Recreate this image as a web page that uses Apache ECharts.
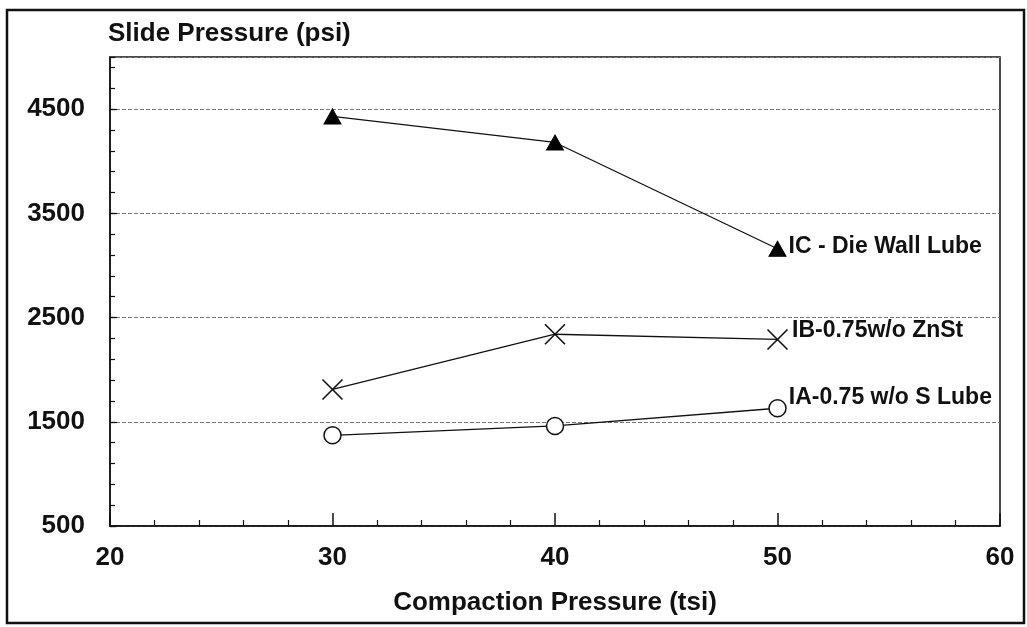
<!DOCTYPE html>
<html>
<head>
<meta charset="utf-8">
<script src="https://cdn.jsdelivr.net/npm/echarts@6/dist/echarts.min.js"></script>
<style>
html,body{margin:0;padding:0;background:#fff;}
#chart{width:1027px;height:627px;}
</style>
</head>
<body>
<div id="chart"></div>
<script>
// Data
const compaction = [30, 40, 50];              // Compaction Pressure (tsi)
const icDieWall = [4430, 4180, 3160];         // IC - Die Wall Lube
const ibNoZnSt = [1810, 2340, 2290];          // IB-0.75w/o ZnSt
const iaNoSLube = [1370, 1460, 1630];         // IA-0.75 w/o S Lube
const seriesNames = ['IC - Die Wall Lube', 'IB-0.75w/o ZnSt', 'IA-0.75 w/o S Lube'];
const xTitle = 'Compaction Pressure (tsi)';
const yTitle = 'Slide Pressure (psi)';

const FONT = "'Liberation Sans', Arial, sans-serif";
const pairs = vals => compaction.map((x, i) => [x, vals[i]]);

const chart = echarts.init(document.getElementById('chart'));
const lastLabel = (name, offset) => ({
  show: true,
  position: 'right',
  distance: 2,
  offset: offset,
  formatter: p => (p.dataIndex === compaction.length - 1 ? name : ''),
  color: '#111',
  fontFamily: FONT,
  fontWeight: 'bold',
  fontSize: 23
});

chart.setOption({
  backgroundColor: '#fff',
  animation: false,
  grid: {
    left: 110, right: 27, top: 57, bottom: 101,
    outerBoundsMode: 'none', containLabel: false,
    show: true, borderColor: '#111', borderWidth: 1.5, backgroundColor: 'transparent'
  },
  graphic: [{
    type: 'rect',
    shape: { x: 7, y: 10, width: 1017, height: 613 },
    style: { fill: 'none', stroke: '#111', lineWidth: 2.5 },
    silent: true
  }],
  xAxis: {
    type: 'value', min: 20, max: 60, interval: 10,
    name: xTitle, nameLocation: 'middle', nameGap: 64,
    nameTextStyle: { fontFamily: FONT, fontSize: 26, fontWeight: 'bold', color: '#111' },
    axisLine: { show: true, onZero: false, lineStyle: { color: '#111', width: 1.5 } },
    axisTick: { show: true, inside: true, length: 13, lineStyle: { color: '#111', width: 1.5 } },
    minorTick: { show: true, splitNumber: 5, length: 6, lineStyle: { color: '#111', width: 1.2 } },
    axisLabel: { fontFamily: FONT, fontSize: 26, fontWeight: 'bold', color: '#111', margin: 19 },
    splitLine: { show: false }
  },
  yAxis: [{
    type: 'value', min: 500, max: 5000, interval: 1000,
    name: yTitle, nameLocation: 'end', nameGap: 10,
    nameTextStyle: { fontFamily: FONT, fontSize: 26, fontWeight: 'bold', color: '#111', align: 'left', padding: [0, 0, 0, -2] },
    axisLine: { show: true, onZero: false, lineStyle: { color: '#111', width: 1.5 } },
    axisTick: { show: true, inside: true, length: 7, lineStyle: { color: '#111', width: 1.2 } },
    axisLabel: { fontFamily: FONT, fontSize: 26, fontWeight: 'bold', color: '#111', margin: 25, showMaxLabel: false,
      formatter: v => (v === 5000 ? '' : String(v)) },
    splitLine: { show: true, lineStyle: { color: '#777', type: [4, 2], width: 1.2 } }
  }, {
    type: 'value', min: 500, max: 5000, interval: 200, position: 'left',
    axisLine: { show: false },
    axisTick: { show: true, inside: true, length: 5, lineStyle: { color: '#111', width: 1.2 } },
    axisLabel: { show: false },
    splitLine: { show: false }
  }],
  series: [{
    name: seriesNames[0], type: 'line', data: pairs(icDieWall),
    symbol: 'triangle', symbolSize: [17, 15],
    lineStyle: { color: '#111', width: 1.3 },
    itemStyle: { color: '#000', borderColor: '#000' },
    label: lastLabel(seriesNames[0], [0, -2])
  }, {
    name: seriesNames[1], type: 'line', data: pairs(ibNoZnSt),
    symbol: 'path://M0,0L10,10M10,0L0,10', symbolSize: 20,
    lineStyle: { color: '#111', width: 1.3 },
    itemStyle: { color: 'none', borderColor: '#111', borderWidth: 1.6 },
    label: lastLabel(seriesNames[1], [0, -9])
  }, {
    name: seriesNames[2], type: 'line', data: pairs(iaNoSLube),
    symbol: 'circle', symbolSize: 17,
    lineStyle: { color: '#111', width: 1.3 },
    itemStyle: { color: '#fff', borderColor: '#111', borderWidth: 1.5 },
    label: lastLabel(seriesNames[2], [0, -11])
  }]
});
</script>
</body>
</html>
